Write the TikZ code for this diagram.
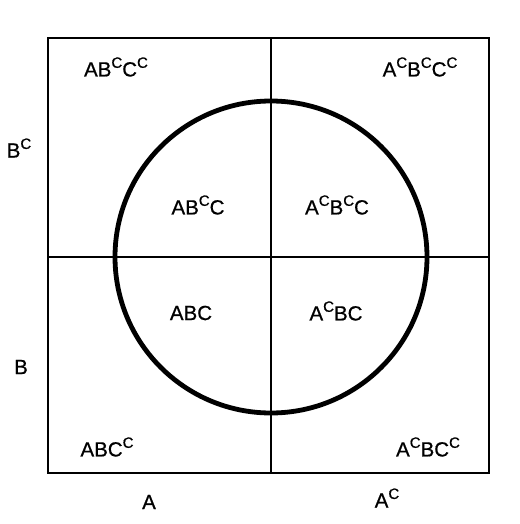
\documentclass[tikz,border=0pt]{standalone}
\usepackage{fontspec}
\setmainfont{Liberation Sans}
\newfontfamily\lblfont{Liberation Sans}[FakeBold=0.7]
\newcommand{\cmp}{\raisebox{0.42em}{\fontsize{15}{15}\selectfont C}}
\begin{document}
\begin{tikzpicture}[x=1pt,y=-1pt,
  lbl/.style={font=\lblfont\fontsize{20.5}{22}\selectfont, inner sep=0pt},
  thin/.style={line width=2.4pt},
  thick/.style={line width=4.8pt}]
\useasboundingbox (0,0) rectangle (519,524);
\draw[thin] (48,38) rectangle (489,473);
\coordinate (vt) at (271,38);
\coordinate (vb) at (271,473);
\coordinate (hl) at (48,257);
\coordinate (hr) at (489,257);
\draw[thin] (vt) -- (vb);
\draw[thin] (hl) -- (hr);
\node[draw, circle, thick, minimum size=312pt, inner sep=0pt] (c) at (271,257) {};
\node[lbl] (n1) at (116,67) {AB\cmp C\cmp};
\node[lbl] (n2) at (420,67) {A\cmp B\cmp C\cmp};
\node[lbl] (n3) at (198,205) {AB\cmp C};
\node[lbl] (n4) at (337,205) {A\cmp B\cmp C};
\node[lbl] (n5) at (191,313) {ABC};
\node[lbl] (n6) at (336,311) {A\cmp BC};
\node[lbl] (n7) at (107,447) {ABC\cmp};
\node[lbl] (n8) at (428,447) {A\cmp BC\cmp};
\node[lbl] (bc) at (19,148) {B\cmp};
\node[lbl] (b) at (21,367) {B};
\node[lbl] (a) at (149,502) {A};
\node[lbl] (ac) at (387,498) {A\cmp};
\end{tikzpicture}
\end{document}
